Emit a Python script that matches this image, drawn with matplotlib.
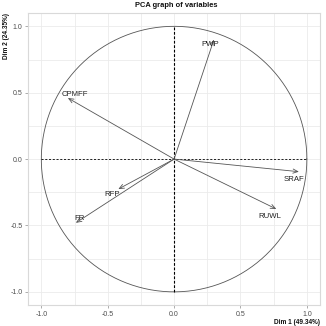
import numpy as np
import matplotlib
matplotlib.use("Agg")
import matplotlib.pyplot as plt

plt.rcParams.update({
    "font.family": "Liberation Sans",
})

# variable coordinates on Dim 1 / Dim 2
variables = ["PWP", "CPMFF", "SRAF", "RUWL", "RFP", "FR"]
dim1 = [0.30, -0.80, 0.94, 0.77, -0.42, -0.74]
dim2 = [0.90, 0.46, -0.095, -0.376, -0.226, -0.48]
# label anchor positions (repelled text)
lab_x = [0.27, -0.75, 0.90, 0.72, -0.47, -0.71]
lab_y = [0.86, 0.49, -0.15, -0.43, -0.27, -0.45]

ticks = [-1.0, -0.5, 0.0, 0.5, 1.0]
tick_labels = ["-1.0", "-0.5", "0.0", "0.5", "1.0"]

fig = plt.figure(figsize=(3.26, 3.26), dpi=100)
ax = fig.add_axes([0.086, 0.064, 0.896, 0.896])
ax.set_xlim(-1.1, 1.1)
ax.set_ylim(-1.1, 1.1)

# grid: major + minor, light gray
for v in np.arange(-1.0, 1.01, 0.25):
    ax.axvline(v, color="#EBEBEB", lw=0.6, zorder=0)
    ax.axhline(v, color="#EBEBEB", lw=0.6, zorder=0)

t = np.linspace(0, 2 * np.pi, 400)
ax.plot(np.cos(t), np.sin(t), color="#555555", lw=0.6, zorder=1)
ax.plot([-1, 1], [0, 0], color="black", lw=0.6, ls=(0, (2.5, 2)), zorder=1)
ax.plot([0, 0], [-1, 1], color="black", lw=0.8, ls=(0, (2.5, 1.5)), zorder=1)

for name, x, y, lx, ly in zip(variables, dim1, dim2, lab_x, lab_y):
    ax.annotate("", xy=(x, y), xytext=(0, 0),
                arrowprops=dict(arrowstyle="->,head_length=0.35,head_width=0.15",
                                color="#555555", lw=0.6, shrinkA=0, shrinkB=0),
                zorder=2)
    ax.text(lx, ly, name, ha="center", va="center", fontsize=5.6,
            color="#222222", zorder=3)

ax.set_xticks(ticks)
ax.set_xticklabels(tick_labels)
ax.set_yticks(ticks)
ax.set_yticklabels(tick_labels)
ax.tick_params(length=2, width=0.5, color="#8C8C8C",
               labelsize=5, labelcolor="#4D4D4D", pad=2)
for s in ax.spines.values():
    s.set_color("#D9D9D9")
    s.set_linewidth(0.8)

fig.text(0.982, 0.011, "Dim 1 (49.34%)", ha="right", va="center",
         fontsize=4.7, fontweight="bold", color="#111111")
fig.text(0.019, 0.960, "Dim 2 (24.35%)", ha="center", va="top",
         rotation=90, fontsize=4.7, fontweight="bold", color="#111111")
fig.text(0.541, 0.982, "PCA graph of variables", ha="center", va="center",
         fontsize=5.4, fontweight="bold", color="#111111")

fig.savefig("out.png", dpi=100)
